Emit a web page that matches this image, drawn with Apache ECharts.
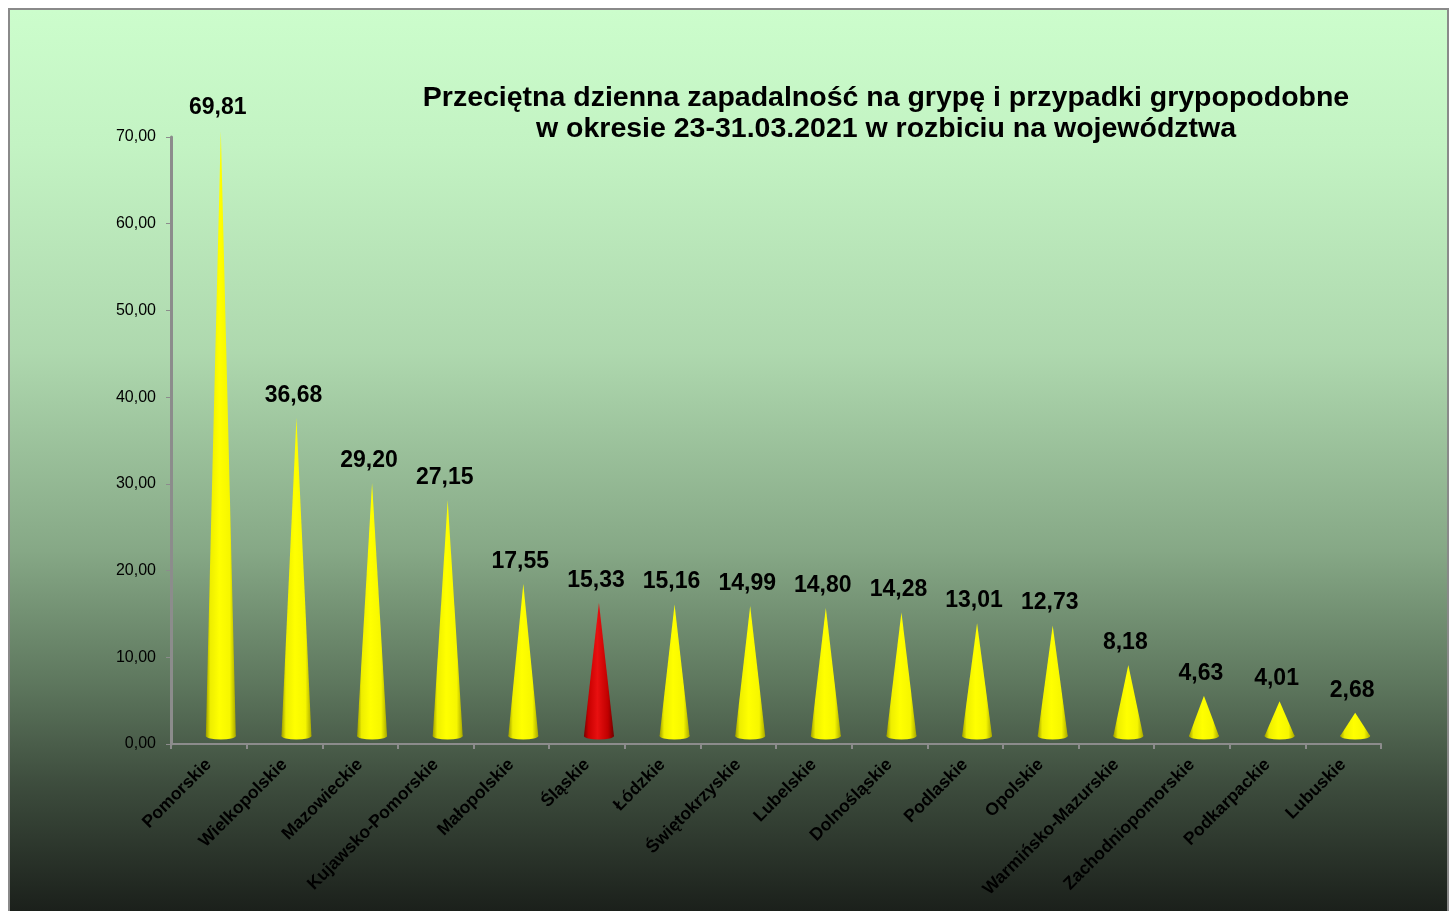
<!DOCTYPE html>
<html><head><meta charset="utf-8">
<script src="https://cdn.jsdelivr.net/npm/echarts@6/dist/echarts.min.js"></script>
<style>
html,body{margin:0;padding:0;background:#fff;}
#c{position:absolute;left:8px;top:8px;width:1441px;height:905px;border:2px solid #8a8a8a;box-sizing:border-box;
background:linear-gradient(to bottom,#ccfdcc 0%,#c3f3c3 15%,#aed8ae 38%,#86a886 60%,#5d765d 75%,#3d4c3d 86%,#1b201b 100%);}
</style></head>
<body><div id="c"></div>
<script>
const categories = ['Pomorskie','Wielkopolskie','Mazowieckie','Kujawsko-Pomorskie','Małopolskie','Śląskie','Łódzkie','Świętokrzyskie','Lubelskie','Dolnośląskie','Podlaskie','Opolskie','Warmińsko-Mazurskie','Zachodniopomorskie','Podkarpackie','Lubuskie'];
const values = [69.81,36.68,29.20,27.15,17.55,15.33,15.16,14.99,14.80,14.28,13.01,12.73,8.18,4.63,4.01,2.68];
const highlighted = ['Śląskie'];
const titleLines = ['Przeciętna dzienna zapadalność na grypę i przypadki grypopodobne','w okresie 23-31.03.2021 w rozbiciu na województwa'];

const fmt = v => Number(v).toFixed(2).replace('.', ',');
const grad = (c) => new echarts.graphic.LinearGradient(0,0,1,0,[
  {offset:0,color:c[0]},{offset:0.15,color:c[1]},{offset:0.45,color:c[2]},{offset:0.8,color:c[3]},{offset:1,color:c[4]}]);
const yellow = ['#9c9c00','#eeee00','#ffff00','#f6f600','#a8a800'];
const red = ['#7a0000','#c80000','#e81010','#c00000','#700000'];
const colorOf = i => grad(highlighted.includes(categories[i]) ? red : yellow);

const chart = echarts.init(document.getElementById('c'), null, {renderer:'canvas'});
chart.setOption({
  backgroundColor:'transparent',
  animation:false,
  title:{text:titleLines.join('\n'), left:871, top:68, textAlign:'center',
    textStyle:{fontFamily:'Liberation Sans, Arial',fontWeight:'bold',fontSize:28.5,color:'#000',lineHeight:31}},
  grid:{left:161, right:66, top:127, height:607},
  xAxis:{type:'category', data:categories, boundaryGap:true,
    axisLine:{lineStyle:{color:'#8c8c8c',width:2}},
    axisTick:{show:true, length:5, interval:0, lineStyle:{color:'#8c8c8c',width:2}},
    axisLabel:{interval:0, rotate:45, margin:18, color:'#000', fontFamily:'Liberation Sans, Arial', fontWeight:'bold', fontSize:17.5}},
  yAxis:{type:'value', min:0, max:70, interval:10,
    splitLine:{show:false},
    axisLine:{show:true, lineStyle:{color:'#8c8c8c',width:3}},
    axisTick:{show:true, length:5, lineStyle:{color:'#8c8c8c',width:1}},
    axisLabel:{formatter:fmt, color:'#000', fontFamily:'Liberation Sans, Arial', fontSize:16, margin:15}},
  series:[{
    type:'pictorialBar',
    symbol:'triangle',
    symbolSize:[30,'100%'],
    symbolOffset:[12,-8],
    z:3,
    data: values.map((v,i)=>({value:v, itemStyle:{color: colorOf(i)}})),
    label:{show:true, position:'top', distance:11, offset:[9,0], formatter:p=>fmt(p.value),
      color:'#000', fontFamily:'Liberation Sans, Arial', fontWeight:'bold', fontSize:23}
  },{
    type:'pictorialBar',
    symbol:'circle',
    symbolSize:[30,7],
    symbolPosition:'start',
    symbolOffset:[12,-4.5],
    barGap:'-100%',
    z:3,
    data: values.map((v,i)=>({value:v, itemStyle:{color: colorOf(i)}}))
  }]
});
</script></body></html>
